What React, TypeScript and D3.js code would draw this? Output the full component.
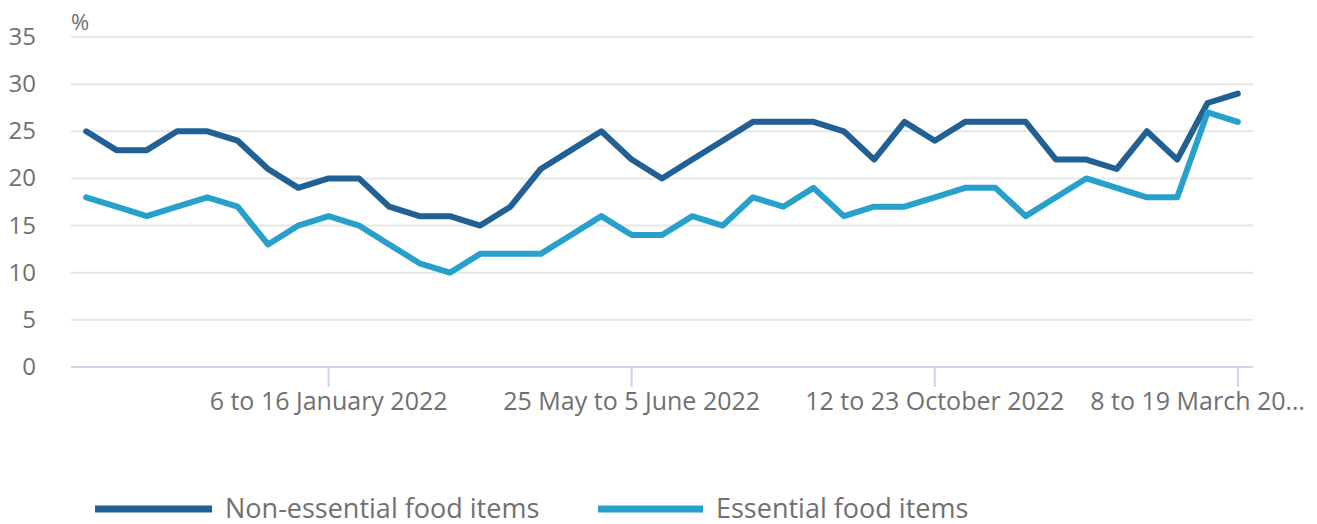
import React from "react";
import * as d3 from "d3";

const seriesNames = ["Non-essential food items", "Essential food items"];
const seriesColors = ["#206095", "#27a0cc"];

const nonEssential = [25, 23, 23, 25, 25, 24, 21, 19, 20, 20, 17, 16, 16, 15, 17, 21, 23, 25, 22, 20, 22, 24, 26, 26, 26, 25, 22, 26, 24, 26, 26, 26, 22, 22, 21, 25, 22, 28, 29];
const essential = [18, 17, 16, 17, 18, 17, 13, 15, 16, 15, 13, 11, 10, 12, 12, 12, 14, 16, 14, 14, 16, 15, 18, 17, 19, 16, 17, 17, 18, 19, 19, 16, 18, 20, 19, 18, 18, 27, 26];

const tickIndices = [8, 18, 28, 38];
const tickLabels = ["6 to 16 January 2022", "25 May to 5 June 2022", "12 to 23 October 2022", "8 to 19 March 20\u2026"];
const yTicks = [0, 5, 10, 15, 20, 25, 30, 35];

const W = 1317;
const H = 524;
const FONT = "'Open Sans', sans-serif";

export default function App() {
  const left = 71;
  const right = 1253;
  const top = 37;
  const bottom = 367;
  const n = nonEssential.length;
  const x = d3.scalePoint<number>().domain(d3.range(n)).range([left, right]).padding(0.5);
  const y = d3.scaleLinear().domain([0, 35]).range([bottom, top]);
  const line = d3.line<number>().x((_, i) => x(i) as number).y((d) => y(d));
  const data = [nonEssential, essential];

  return (
    <svg width={W} height={H} style={{ position: "absolute", left: 0, top: 0, fontFamily: FONT }}>
      <rect width={W} height={H} fill="#fff" />
      {yTicks.map((t) => (
        <g key={t}>
          {t > 0 && <line x1={left} x2={right} y1={y(t)} y2={y(t)} stroke="#e6e6e6" strokeWidth={2} />}
          <text x={36} y={y(t) + 8} textAnchor="end" fontSize={24} fill="#707070">{t}</text>
        </g>
      ))}
      <text x={left} y={30} fontSize={22} fill="#707070">%</text>
      <line x1={left} x2={right} y1={bottom} y2={bottom} stroke="#ccd6eb" strokeWidth={2} />
      {tickIndices.map((ti, k) => {
        const tx = x(ti) as number;
        const last = k === tickIndices.length - 1;
        return (
          <g key={ti}>
            <line x1={tx} x2={tx} y1={bottom} y2={bottom + 20} stroke="#ccd6eb" strokeWidth={2} />
            <text x={last ? W - 12 : tx} y={410} textAnchor={last ? "end" : "middle"} fontSize={25} fill="#707070">
              {tickLabels[k]}
            </text>
          </g>
        );
      })}
      {data.map((d, i) => (
        <path key={i} d={line(d) || ""} fill="none" stroke={seriesColors[i]} strokeWidth={6} strokeLinejoin="round" strokeLinecap="round" />
      ))}
      {[{ sx: 95, sw: 117, tx: 225 }, { sx: 598, sw: 105, tx: 716 }].map((p, i) => (
        <g key={i}>
          <line x1={p.sx} x2={p.sx + p.sw} y1={509} y2={509} stroke={seriesColors[i]} strokeWidth={7} />
          <text x={p.tx} y={518} fontSize={27} fill="#707070">{seriesNames[i]}</text>
        </g>
      ))}
    </svg>
  );
}
